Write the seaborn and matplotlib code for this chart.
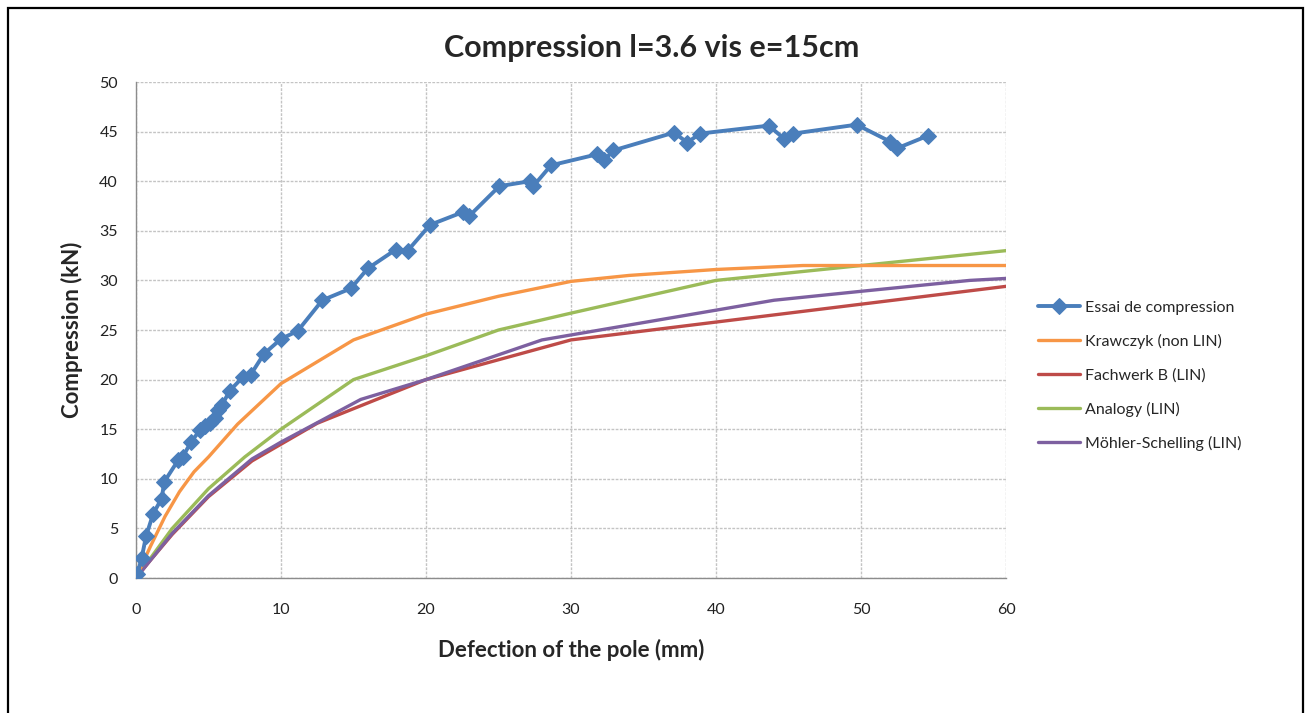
"""
Compression l=3.6 vis e=15cm : essai vs modèles (Krawczyk, Fachwerk B, Analogy, Möhler-Schelling).
Sortie : out.png (1310x713)
"""
import matplotlib.pyplot as plt
import numpy as np
import pandas as pd
import seaborn as sns
from matplotlib.patches import Rectangle

sns.set_style("white")
plt.rcParams["font.family"] = ["Lato", "DejaVu Sans"]

# ─────────────────────────────────────────────
# Données
# ─────────────────────────────────────────────
essai_x = [0.09, 0.39, 0.69, 1.19, 1.77, 1.95, 2.92, 3.22, 3.79, 4.41, 4.76, 5.10,
           5.45, 5.68, 5.91, 6.48, 7.40, 7.91, 8.83, 10.0, 11.15, 12.85, 14.83,
           15.98, 17.91, 18.74, 20.28, 22.57, 22.99, 25.06, 27.17, 27.40, 28.62,
           31.77, 32.28, 32.92, 37.10, 38.02, 38.90, 43.63, 44.69, 45.33, 49.70,
           52.00, 52.46, 54.64]
essai_y = [0.4, 2.0, 4.2, 6.5, 8.0, 9.7, 11.9, 12.2, 13.7, 14.9, 15.3, 15.6,
           16.1, 16.9, 17.4, 18.9, 20.3, 20.5, 22.6, 24.1, 24.9, 28.0, 29.2,
           31.2, 33.1, 33.0, 35.6, 36.9, 36.5, 39.5, 40.0, 39.5, 41.6,
           42.7, 42.1, 43.1, 44.9, 43.9, 44.8, 45.6, 44.3, 44.8, 45.7,
           44.0, 43.3, 44.6]

krawczyk_x = [0, 1, 2, 3, 4, 5, 7, 10, 15, 20, 25, 30, 34, 40, 46, 60]
krawczyk_y = [0, 3.2, 6.2, 8.7, 10.7, 12.2, 15.5, 19.6, 24.0, 26.6, 28.4, 29.9,
              30.5, 31.1, 31.5, 31.5]

fachwerk_x = [0, 1, 2.5, 5, 8, 12.5, 20, 30, 60]
fachwerk_y = [0, 1.8, 4.4, 8.2, 11.8, 15.6, 20.0, 24.0, 29.4]

analogy_x = [0, 1, 2.5, 5, 7.5, 10, 15, 20, 25, 30, 40, 50, 60]
analogy_y = [0, 2.0, 5.0, 9.0, 12.2, 15.0, 20.0, 22.4, 25.0, 26.7, 30.0, 31.5, 33.0]

mohler_x = [0, 1, 2.5, 5, 8, 10, 15.5, 20, 28, 44, 50, 57.5, 60]
mohler_y = [0, 1.8, 4.5, 8.3, 12.0, 13.7, 18.0, 20.0, 24.0, 28.0, 28.9, 30.0, 30.2]

x_ticks = [0, 10, 20, 30, 40, 50, 60]
y_ticks = [0, 5, 10, 15, 20, 25, 30, 35, 40, 45, 50]

# couleurs Excel
C_BLUE = "#4A7EBB"
C_ORANGE = "#F79646"
C_RED = "#BE4B48"
C_GREEN = "#9BBB59"
C_PURPLE = "#7D60A0"


def main() -> None:
    fig = plt.figure(figsize=(13.1, 7.13), dpi=100)
    ax = fig.add_axes([136 / 1310, 1 - 578 / 713, 870 / 1310, 496 / 713])

    sns.lineplot(x=essai_x, y=essai_y, ax=ax, sort=False, estimator=None,
                 color=C_BLUE, linewidth=2.8, marker="D", markersize=8,
                 markeredgecolor=C_BLUE, label="Essai de compression", zorder=6)
    sns.lineplot(x=krawczyk_x, y=krawczyk_y, ax=ax, sort=False, estimator=None,
                 color=C_ORANGE, linewidth=2.4, label="Krawczyk (non LIN)", zorder=5)
    sns.lineplot(x=fachwerk_x, y=fachwerk_y, ax=ax, sort=False, estimator=None,
                 color=C_RED, linewidth=2.4, label="Fachwerk B (LIN)", zorder=4)
    sns.lineplot(x=analogy_x, y=analogy_y, ax=ax, sort=False, estimator=None,
                 color=C_GREEN, linewidth=2.4, label="Analogy (LIN)", zorder=4)
    sns.lineplot(x=mohler_x, y=mohler_y, ax=ax, sort=False, estimator=None,
                 color=C_PURPLE, linewidth=2.4, label="Möhler-Schelling (LIN)", zorder=4)

    ax.set_xlim(0, 60)
    ax.set_ylim(0, 50)
    ax.set_xticks(x_ticks)
    ax.set_yticks(y_ticks)
    ax.tick_params(axis="both", labelsize=11.5, colors="#222222", length=0)
    ax.tick_params(axis="x", pad=18)
    ax.tick_params(axis="y", pad=13)
    ax.grid(True, color="#C4C4C4", linewidth=1.0, linestyle=(0, (2, 1)))
    ax.set_axisbelow(True)
    for side in ("top", "right"):
        ax.spines[side].set_visible(False)
    for side in ("left", "bottom"):
        ax.spines[side].set_color("#8C8C8C")
        ax.spines[side].set_linewidth(1.0)

    ax.set_xlabel("Defection of the pole (mm)", fontsize=16, fontweight="bold",
                  labelpad=16)
    ax.set_ylabel("Compression (kN)", fontsize=16, fontweight="bold", labelpad=12)

    fig.text(652 / 1310, 1 - 48 / 713, "Compression l=3.6 vis e=15cm",
             ha="center", va="center", fontsize=22, fontweight="bold")

    ax.legend(loc="upper left", bbox_to_anchor=(1032 / 1310, 1 - 294 / 713),
              bbox_transform=fig.transFigure, frameon=False, fontsize=11.5,
              handlelength=2.6, handletextpad=0.3, labelspacing=1.2,
              borderaxespad=0)

    # cadre noir du graphique
    fig.patches.append(Rectangle((8 / 1310, -0.05), 1295 / 1310, (713 - 8) / 713 + 0.05,
                                 transform=fig.transFigure, fill=False,
                                 linewidth=1.6, edgecolor="black"))

    fig.savefig("out.png", dpi=100)
    plt.close(fig)


if __name__ == "__main__":
    main()
